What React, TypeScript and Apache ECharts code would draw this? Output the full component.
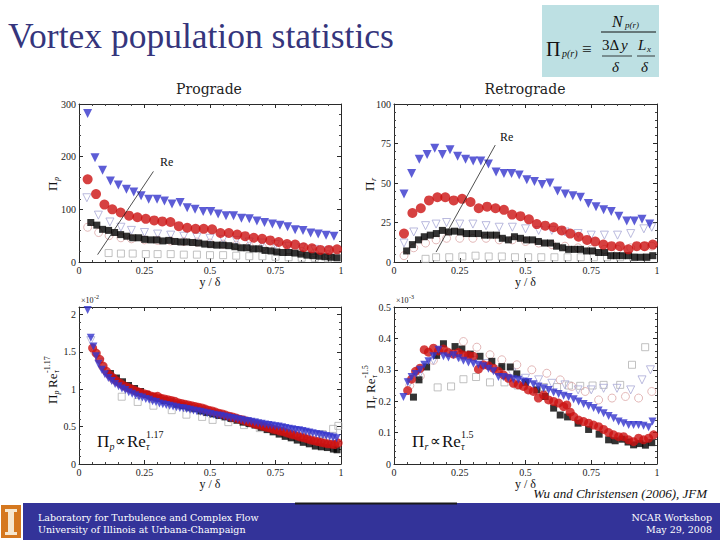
import React, { useEffect, useRef } from 'react';
import * as echarts from 'echarts';

const SERIF = 'Liberation Serif';
const SLAB = 'DejaVu Serif';

// ---------- Prograde vortex population, Pi_p ----------
const progBlueX = [0.033,0.061,0.090,0.120,0.150,0.181,0.209,0.237,0.266,0.298,0.326,0.355,0.386,0.413,0.443,0.474,0.503,0.531,0.561,0.590,0.620,0.650,0.679,0.708,0.738,0.767,0.796,0.825,0.855,0.884,0.913,0.943,0.973];
const progBlueY = [282,198,174,154,146,138,133,126,119,119,116,110,113,103,100,96,96,91,88,88,83,82,78,75,72,70,67,61,60,55,53,51,49];
const progRedX = [0.033,0.065,0.097,0.127,0.159,0.191,0.223,0.255,0.287,0.318,0.349,0.381,0.413,0.445,0.476,0.508,0.540,0.572,0.604,0.634,0.667,0.699,0.730,0.762,0.794,0.825,0.857,0.889,0.921,0.954,0.985];
const progRedY = [157,129,109,100,94,88,85,82,79,77,76,68,65,63,63,62,55,55,52,49,46,44,41,38,34,33,28,26,23,23,24];
const progBlackX = [0.045,0.068,0.090,0.113,0.136,0.159,0.182,0.205,0.228,0.251,0.274,0.297,0.320,0.343,0.366,0.389,0.411,0.434,0.457,0.480,0.503,0.526,0.549,0.572,0.595,0.618,0.641,0.664,0.687,0.710,0.733,0.755,0.778,0.801,0.824,0.847,0.870,0.893,0.916,0.939,0.962,0.985];
const progBlackY = [75,70,62,60,56,52,49,46,46,43,42,42,40,41,39,38,38,37,36,34,33,32,32,31,29,27,27,25,25,22,21,19,18,18,17,15,13,12,11,10,9,8];
const progOpenSqX = [0.113,0.16,0.205,0.255,0.3,0.35,0.4,0.45,0.5,0.55,0.6,0.65,0.7,0.75,0.8,0.85,0.9,0.95];
const progOpenSqY = [17,16,16,15,15,15,14,14,13,13,12,11,11,10,9,8,8,7];
const progOpenCircX = [0.033,0.075,0.115,0.16,0.2,0.25,0.3,0.35,0.4,0.45,0.5,0.55,0.6,0.65,0.7,0.75,0.8,0.85,0.9,0.95];
const progOpenCircY = [66,56,50,46,44,42,41,40,39,38,36,34,32,30,28,26,23,20,17,14];
const progOpenTriX = [0.03,0.074,0.118,0.16,0.2,0.25,0.3,0.35,0.4,0.45,0.5,0.55,0.6,0.65,0.7,0.75,0.8,0.85,0.9,0.95];
const progOpenTriY = [122,89,76,66,60,56,53,51,49,47,45,43,41,38,36,33,30,27,24,21];

// ---------- Retrograde vortex population, Pi_r ----------
const retroBlueX = [0.038,0.067,0.096,0.126,0.155,0.184,0.213,0.242,0.272,0.301,0.330,0.359,0.388,0.418,0.447,0.476,0.505,0.534,0.563,0.593,0.622,0.651,0.680,0.709,0.739,0.768,0.797,0.826,0.855,0.885,0.914,0.943,0.972];
const retroBlueY = [43,56,65,68,72,68,71,67,65,64,64,62,57,56,56,55,52,51,49,50,45,43,42,41,37,35,33,32,29,26,26,27,24];
const retroRedX = [0.038,0.070,0.102,0.133,0.165,0.195,0.227,0.259,0.291,0.322,0.354,0.386,0.418,0.449,0.481,0.513,0.543,0.575,0.607,0.638,0.670,0.702,0.734,0.765,0.796,0.827,0.859,0.891,0.923,0.953,0.984];
const retroRedY = [18,31,34,39,41,41,39,40,38,34,35,34,33,30,29,27,24,23,22,20,18,16,14,13,11,10,10,8,10,10,11];
const retroBlackX = [0.048,0.070,0.093,0.115,0.138,0.161,0.184,0.207,0.230,0.253,0.275,0.298,0.321,0.344,0.367,0.390,0.412,0.435,0.458,0.481,0.504,0.527,0.549,0.572,0.595,0.618,0.641,0.664,0.687,0.709,0.732,0.755,0.778,0.801,0.824,0.846,0.869,0.892,0.915,0.938,0.961,0.984];
const retroBlackY = [7,11,14,16,17,18,20,19,19.5,19,18,18,18,17,17,17,15,14,16,15,14,14,13,12,12,10,9,8,8,8,7,7,6,6,4,4,4,4,3,3,3,4];
const retroOpenX = [0.038,0.075,0.12,0.16,0.2,0.25,0.3,0.35,0.4,0.45,0.5,0.55,0.6,0.65,0.7,0.75,0.8,0.85,0.9,0.95,0.98];
const retroOpenTriY = [12,19,23,24,25,24,24,23,22,22,21,20,20,19,18,17,17,17,18,21,22];
const retroOpenCircY = [4,9,12,14,15,15,15,15,14,14,13,12,11,10,9,8,8,8,9,10,10];
const retroOpenSqX = [0.12,0.16,0.21,0.26,0.31,0.36,0.41,0.46,0.51,0.56,0.61,0.66,0.71,0.76,0.81,0.86,0.91,0.96];
const retroOpenSqY = [2,3,3,3.5,4,3.5,3.5,3,3,3,3,3,3,3,3,3,3,3];

// ---------- Prograde, scaled by Re_tau^-1.17 (x10^-2) ----------
const progScBlueX = [0.033,0.045,0.055,0.065,0.074,0.087,0.099,0.112,0.125,0.138,0.151,0.164,0.177,0.190,0.203,0.216,0.229,0.242,0.255,0.268,0.281,0.294,0.307,0.320,0.333,0.346,0.359,0.372,0.385,0.398,0.411,0.424,0.437,0.450,0.463,0.476,0.489,0.502,0.515,0.528,0.541,0.554,0.567,0.580,0.593,0.606,0.619,0.632,0.645,0.658,0.671,0.684,0.697,0.710,0.723,0.736,0.749,0.762,0.775,0.788,0.801,0.814,0.827,0.840,0.853,0.866,0.879,0.892,0.905,0.918,0.931,0.944,0.957,0.970,0.983];
const progScBlueY = [2.06,1.69,1.57,1.44,1.34,1.26,1.20,1.15,1.11,1.07,1.04,1.01,0.99,0.96,0.94,0.92,0.90,0.89,0.87,0.86,0.84,0.83,0.81,0.80,0.79,0.78,0.77,0.76,0.75,0.745,0.735,0.725,0.715,0.705,0.70,0.69,0.68,0.67,0.66,0.65,0.645,0.635,0.625,0.615,0.61,0.60,0.59,0.58,0.575,0.565,0.555,0.545,0.54,0.53,0.52,0.515,0.505,0.50,0.49,0.48,0.47,0.465,0.455,0.45,0.44,0.43,0.42,0.41,0.40,0.395,0.385,0.375,0.365,0.355,0.345];
const progScRedX = [0.052,0.066,0.079,0.092,0.105,0.118,0.131,0.144,0.157,0.170,0.183,0.196,0.209,0.222,0.235,0.248,0.261,0.274,0.287,0.300,0.313,0.326,0.339,0.352,0.365,0.378,0.391,0.404,0.417,0.430,0.443,0.456,0.469,0.482,0.495,0.508,0.521,0.534,0.547,0.560,0.573,0.586,0.599,0.612,0.625,0.638,0.651,0.664,0.677,0.690,0.703,0.716,0.729,0.742,0.755,0.768,0.781,0.794,0.807,0.820,0.833,0.846,0.859,0.872,0.885,0.898,0.911,0.924,0.937,0.950,0.963,0.976,0.989];
const progScRedY = [1.55,1.48,1.40,1.31,1.24,1.19,1.15,1.11,1.08,1.05,1.03,1.01,0.99,0.97,0.955,0.94,0.93,0.91,0.90,0.905,0.88,0.87,0.86,0.85,0.84,0.82,0.81,0.80,0.79,0.78,0.77,0.76,0.75,0.735,0.72,0.71,0.695,0.68,0.67,0.655,0.64,0.63,0.615,0.60,0.59,0.575,0.56,0.545,0.53,0.52,0.505,0.49,0.48,0.465,0.455,0.44,0.43,0.415,0.40,0.39,0.375,0.36,0.35,0.335,0.32,0.31,0.30,0.29,0.28,0.27,0.265,0.26,0.28];
const progScBlackX = [0.12,0.143,0.166,0.189,0.212,0.235,0.258,0.281,0.304,0.327,0.35,0.373,0.396,0.419,0.442,0.465,0.488,0.511,0.534,0.557,0.58,0.603,0.626,0.649,0.672,0.695,0.718,0.741,0.764,0.787,0.81,0.833,0.856,0.879,0.902,0.925,0.948,0.971,0.985];
const progScBlackY = [1.21,1.15,1.10,1.05,1.01,0.97,0.93,0.90,0.88,0.85,0.83,0.80,0.78,0.76,0.74,0.71,0.69,0.67,0.65,0.63,0.61,0.585,0.56,0.54,0.52,0.49,0.46,0.43,0.40,0.37,0.35,0.32,0.29,0.27,0.24,0.23,0.22,0.20,0.19];
const progScOpenSqX = [0.163,0.224,0.284,0.354,0.41,0.47,0.51,0.57,0.63,0.69,0.75,0.81,0.87,0.93,0.97,0.99];
const progScOpenSqY = [0.90,0.83,0.78,0.72,0.66,0.63,0.59,0.56,0.52,0.48,0.45,0.42,0.40,0.40,0.47,0.51];
const progScOpenCircX = [0.06,0.09,0.13,0.18,0.23,0.28,0.33,0.38,0.43,0.48,0.53,0.58,0.63,0.68,0.73,0.78,0.83,0.88,0.93,0.98];
const progScOpenCircY = [1.5,1.3,1.13,1.02,0.94,0.88,0.84,0.79,0.75,0.70,0.66,0.61,0.57,0.52,0.48,0.44,0.40,0.36,0.33,0.30];
const progScOpenTriX = [0.045,0.08,0.12,0.17,0.22,0.27,0.32,0.37,0.42,0.47,0.52,0.57,0.62,0.67,0.72,0.77,0.82,0.87,0.92,0.97];
const progScOpenTriY = [1.65,1.36,1.16,1.03,0.95,0.89,0.84,0.80,0.76,0.72,0.67,0.63,0.59,0.55,0.51,0.47,0.44,0.41,0.38,0.36];

// ---------- Retrograde, scaled by Re_tau^-1.5 (x10^-3) ----------
const retroScBlueX = [0.036,0.052,0.067,0.082,0.099,0.115,0.131,0.15,0.169,0.188,0.207,0.226,0.245,0.264,0.283,0.302,0.321,0.34,0.359,0.378,0.397,0.416,0.435,0.454,0.473,0.492,0.511,0.53,0.549,0.569,0.588,0.607,0.626,0.645,0.664,0.683,0.702,0.721,0.74,0.759,0.778,0.797,0.816,0.835,0.854,0.873,0.892,0.911,0.93,0.949,0.968,0.983];
const retroScBlueY = [0.213,0.26,0.277,0.287,0.30,0.316,0.327,0.343,0.364,0.343,0.339,0.346,0.337,0.329,0.323,0.319,0.316,0.311,0.303,0.295,0.277,0.277,0.273,0.27,0.268,0.263,0.261,0.254,0.247,0.241,0.236,0.228,0.223,0.217,0.213,0.206,0.199,0.191,0.185,0.178,0.17,0.162,0.153,0.146,0.135,0.13,0.124,0.124,0.124,0.122,0.117,0.135];
const retroScRedX = [0.052,0.067,0.082,0.099,0.115,0.131,0.15,0.169,0.188,0.207,0.226,0.245,0.264,0.283,0.302,0.321,0.34,0.359,0.378,0.397,0.416,0.435,0.454,0.473,0.492,0.511,0.53,0.549,0.569,0.588,0.607,0.626,0.645,0.657,0.67,0.683,0.702,0.721,0.74,0.759,0.778,0.797,0.816,0.835,0.854,0.873,0.892,0.911,0.93,0.949,0.968,0.987];
const retroScRedY = [0.234,0.27,0.295,0.305,0.364,0.356,0.369,0.36,0.366,0.355,0.35,0.355,0.347,0.346,0.343,0.302,0.316,0.313,0.305,0.295,0.284,0.273,0.257,0.252,0.247,0.236,0.231,0.21,0.22,0.204,0.199,0.194,0.183,0.188,0.165,0.151,0.14,0.135,0.13,0.124,0.119,0.11,0.1,0.093,0.087,0.087,0.077,0.071,0.082,0.077,0.082,0.093];
const retroScBlackX = [0.074,0.095,0.124,0.162,0.188,0.232,0.258,0.29,0.327,0.372,0.41,0.442,0.467,0.50,0.543,0.575,0.607,0.632,0.66,0.70,0.74,0.78,0.816,0.841,0.867,0.89,0.911,0.935,0.956,0.98];
const retroScBlackY = [0.213,0.268,0.309,0.346,0.383,0.374,0.366,0.35,0.343,0.327,0.31,0.309,0.287,0.26,0.236,0.215,0.178,0.156,0.15,0.13,0.11,0.095,0.077,0.074,0.079,0.07,0.061,0.065,0.06,0.068];
const retroScOpenSqX = [0.166,0.217,0.264,0.312,0.365,0.42,0.47,0.52,0.57,0.62,0.665,0.708,0.755,0.797,0.86,0.905,0.955];
const retroScOpenSqY = [0.244,0.247,0.27,0.277,0.26,0.26,0.25,0.25,0.245,0.245,0.25,0.249,0.25,0.252,0.252,0.316,0.372];
const retroScOpenCircX = [0.06,0.1,0.15,0.2,0.264,0.315,0.365,0.41,0.467,0.524,0.581,0.632,0.676,0.727,0.778,0.829,0.88,0.93,0.98];
const retroScOpenCircY = [0.25,0.28,0.33,0.36,0.39,0.372,0.348,0.332,0.316,0.30,0.289,0.268,0.247,0.231,0.204,0.21,0.215,0.21,0.231];
const retroScOpenTriX = [0.06,0.1,0.15,0.2,0.25,0.3,0.35,0.4,0.448,0.5,0.55,0.6,0.65,0.70,0.75,0.797,0.848,0.9,0.943,0.975];
const retroScOpenTriY = [0.26,0.29,0.33,0.35,0.34,0.33,0.32,0.30,0.29,0.273,0.268,0.257,0.252,0.236,0.236,0.241,0.241,0.236,0.268,0.30];

// x-axis ticks shared by all four panels
const xTicks = { min: 0, max: 1, interval: 0.25 };

const BLUE = '#3434cc';
const RED = '#cc1111';
const BLACK = '#000000';
const GREY_SQ = '#b2b2b2';
const GREY_CIRC = '#dca6a6';
const GREY_TRI = '#a9a9d6';

const pts = (xs: number[], ys: number[]) =>
  xs.slice(0, Math.min(xs.length, ys.length)).map((x, i) => [x, ys[i]]);

type Mark = 'rect' | 'circle' | 'triangle';

function scatter(grid: number, xs: number[], ys: number[], mark: Mark, size: number, color: string, hollow: boolean, extra: any = {}) {
  return {
    type: 'scatter',
    xAxisIndex: grid * 2,
    yAxisIndex: grid * 2,
    symbol: mark,
    symbolSize: size,
    symbolRotate: mark === 'triangle' ? 180 : 0,
    itemStyle: hollow
      ? { color: 'rgba(255,255,255,0)', borderColor: color, borderWidth: 1 }
      : { color },
    data: pts(xs, ys),
    silent: true,
    ...extra,
  };
}

const reLine = (a: number[], b: number[]) => ({
  markLine: {
    silent: true,
    symbol: ['none', 'none'],
    label: { show: false },
    lineStyle: { color: '#222', width: 0.8, type: 'solid' },
    data: [[{ coord: a }, { coord: b }]],
  },
});

const tickLabel = { fontFamily: SERIF, fontSize: 10, color: '#222', margin: 3 };
const axisBase = {
  type: 'value',
  axisLine: { show: true, onZero: false, lineStyle: { color: '#2a2a2a', width: 1 } },
  axisTick: { show: true, inside: true, length: 4, lineStyle: { color: '#2a2a2a' } },
  minorTick: { show: true, splitNumber: 5, length: 2, lineStyle: { color: '#444' } },
  splitLine: { show: false },
};

const grids = [
  { left: 79, top: 104, width: 262, height: 158 },
  { left: 394, top: 104, width: 263, height: 158 },
  { left: 79, top: 307, width: 262, height: 157 },
  { left: 394, top: 307, width: 263, height: 157 },
];
const yScales = [
  { min: 0, max: 300, interval: 100 },
  { min: 0, max: 100, interval: 25 },
  { min: 0, max: 2.1, interval: 0.5 },
  { min: 0, max: 0.5, interval: 0.1 },
];

const xAxes: any[] = [];
const yAxes: any[] = [];
grids.forEach((_, i) => {
  xAxes.push({
    ...axisBase, ...xTicks, gridIndex: i, position: 'bottom',
    axisLabel: tickLabel,
    name: 'y / δ', nameLocation: 'middle', nameGap: i === 3 ? 8 : 12,
    nameTextStyle: { fontFamily: SERIF, fontSize: 12, color: '#111' },
  });
  xAxes.push({ ...axisBase, ...xTicks, gridIndex: i, position: 'top', axisLabel: { show: false } });
  yAxes.push({
    ...axisBase, ...yScales[i], gridIndex: i, position: 'left',
    axisLabel: { ...tickLabel, showMaxLabel: i !== 2 },
  });
  yAxes.push({ ...axisBase, ...yScales[i], gridIndex: i, position: 'right', axisLabel: { show: false } });
});

const series: any[] = [
  // prograde
  scatter(0, progOpenSqX, progOpenSqY, 'rect', 7, GREY_SQ, true),
  scatter(0, progOpenCircX, progOpenCircY, 'circle', 8, GREY_CIRC, true),
  scatter(0, progOpenTriX, progOpenTriY, 'triangle', 8, GREY_TRI, true),
  scatter(0, progBlackX, progBlackY, 'rect', 7, BLACK, false, reLine([0.071, 14], [0.284, 172])),
  scatter(0, progRedX, progRedY, 'circle', 10, RED, false),
  scatter(0, progBlueX, progBlueY, 'triangle', 9, BLUE, false),
  // retrograde
  scatter(1, retroOpenSqX, retroOpenSqY, 'rect', 7, GREY_SQ, true),
  scatter(1, retroOpenX, retroOpenCircY, 'circle', 8, GREY_CIRC, true),
  scatter(1, retroOpenX, retroOpenTriY, 'triangle', 8, GREY_TRI, true),
  scatter(1, retroBlackX, retroBlackY, 'rect', 7, BLACK, false, reLine([0.16, 6.3], [0.385, 74])),
  scatter(1, retroRedX, retroRedY, 'circle', 10, RED, false),
  scatter(1, retroBlueX, retroBlueY, 'triangle', 9, BLUE, false),
  // prograde scaled
  scatter(2, progScOpenSqX, progScOpenSqY, 'rect', 7, GREY_SQ, true),
  scatter(2, progScOpenCircX, progScOpenCircY, 'circle', 8, GREY_CIRC, true),
  scatter(2, progScOpenTriX, progScOpenTriY, 'triangle', 8, GREY_TRI, true),
  scatter(2, progScBlackX, progScBlackY, 'rect', 7, BLACK, false),
  scatter(2, progScRedX, progScRedY, 'circle', 9, RED, false),
  scatter(2, progScBlueX, progScBlueY, 'triangle', 8, BLUE, false),
  // retrograde scaled
  scatter(3, retroScOpenSqX, retroScOpenSqY, 'rect', 7, GREY_SQ, true),
  scatter(3, retroScOpenCircX, retroScOpenCircY, 'circle', 8, GREY_CIRC, true),
  scatter(3, retroScOpenTriX, retroScOpenTriY, 'triangle', 8, GREY_TRI, true),
  scatter(3, retroScBlackX, retroScBlackY, 'rect', 7, BLACK, false),
  scatter(3, retroScRedX, retroScRedY, 'circle', 9, RED, false),
  scatter(3, retroScBlueX, retroScBlueY, 'triangle', 8, BLUE, false),
];

// ---------- text helpers for the slide decoration ----------
function txt(x: number, y: number, text: string, size: number, o: any = {}) {
  return {
    type: 'text', x, y, silent: true,
    style: {
      text, fontSize: size, fontFamily: o.family || SERIF,
      fontStyle: o.italic ? 'italic' : 'normal',
      fontWeight: o.bold ? 'bold' : 'normal',
      fill: o.color || '#111', align: o.align || 'left', verticalAlign: o.va || 'middle',
    },
  };
}
// piece: [text, dx, dy, size, italic]
type Piece = [string, number, number, number, boolean?];
function mathGroup(x: number, y: number, pieces: Piece[], rotated: boolean) {
  return {
    type: 'group', x, y, rotation: rotated ? Math.PI / 2 : 0, silent: true,
    children: pieces.map(([t, dx, dy, s, it]) => txt(dx, dy, t, s, { italic: !!it })),
  };
}
const line = (x1: number, y1: number, x2: number, y2: number, color = '#111', w = 1) => ({
  type: 'line', silent: true, shape: { x1, y1, x2, y2 }, style: { stroke: color, lineWidth: w },
});

const graphic: any[] = [
  // slide title and panel headings
  txt(8, 36, 'Vortex population statistics', 35.5, { color: '#35357c' }),
  txt(209, 89, 'Prograde', 14, { family: SLAB, align: 'center', color: '#222' }),
  txt(525, 89, 'Retrograde', 14, { family: SLAB, align: 'center', color: '#222' }),

  // definition box
  { type: 'rect', silent: true, shape: { x: 542, y: 5, width: 117, height: 72 }, style: { fill: '#bde0e3' } },
  txt(546, 49, 'Π', 20),
  txt(562, 53, 'p(r)', 10, { italic: true }),
  txt(582, 49, '≡', 17),
  txt(612, 21, 'N', 16, { italic: true }),
  txt(625, 25, 'p(r)', 9, { italic: true }),
  line(601, 32, 656, 32),
  txt(602, 45, '3Δ', 15),
  txt(621, 45, 'y', 15, { italic: true }),
  txt(638, 45, 'L', 15, { italic: true }),
  txt(647, 49, 'x', 9, { italic: true }),
  line(602, 56, 632, 56, '#111', 0.8),
  line(637, 56, 655, 56, '#111', 0.8),
  txt(612, 67, 'δ', 15, { italic: true }),
  txt(641, 67, 'δ', 15, { italic: true }),

  // y-axis titles
  mathGroup(52, 183, [['Π', -8, 0, 13], ['p', 2, 4, 8, true]], true),
  mathGroup(369, 183, [['Π', -8, 0, 13], ['r', 2, 4, 8, true]], true),
  mathGroup(52, 381, [['Π', -23, 0, 13], ['p', -13.5, 4, 8, true], ['Re', -7, 0, 13], ['τ', 8, 4, 8, true], ['-1.17', 8, -5, 8]], true),
  mathGroup(370, 388, [['Π', -21, 0, 13], ['r', -11.5, 4, 8, true], ['Re', -5, 0, 13], ['τ', 10, 4, 8, true], ['-1.5', 10, -5, 8]], true),

  // exponent markers above the scaled panels
  txt(81, 300, '×10', 8), txt(94, 297, '-2', 6),
  txt(396, 300, '×10', 8), txt(409, 297, '-3', 6),

  // Reynolds-number direction labels
  txt(160, 162, 'Re', 12),
  txt(500, 137, 'Re', 12),

  // scaling laws
  mathGroup(97, 441, [['Π', 0, 0, 17], ['p', 12.5, 5, 10, true], ['∝', 18, 0, 15], ['Re', 30, 0, 17], ['τ', 49, 5, 10, true], ['1.17', 49, -7, 10]], false),
  mathGroup(412, 441, [['Π', 0, 0, 17], ['r', 12.5, 5, 10, true], ['∝', 18, 0, 15], ['Re', 30, 0, 17], ['τ', 49, 5, 10, true], ['1.5', 49, -7, 10]], false),

  // citation
  txt(707, 493, 'Wu and Christensen (2006), JFM', 13, { italic: true, align: 'right', color: '#111' }),

  // footer band
  { type: 'rect', silent: true, shape: { x: 0, y: 503, width: 720, height: 37 }, style: { fill: '#333399' } },
  line(295, 503.5, 457, 503.5, '#1a1a1a', 2),
  { type: 'rect', silent: true, shape: { x: 0, y: 503, width: 23, height: 37 }, style: { fill: '#ffffff' } },
  { type: 'rect', silent: true, shape: { x: 1, y: 505, width: 20, height: 33 }, style: { fill: '#d5781f' } },
  { type: 'rect', silent: true, shape: { x: 5, y: 509, width: 12, height: 3 }, style: { fill: '#f6e7cf' } },
  { type: 'rect', silent: true, shape: { x: 8, y: 512, width: 6, height: 20 }, style: { fill: '#f6e7cf' } },
  { type: 'rect', silent: true, shape: { x: 5, y: 532, width: 12, height: 3 }, style: { fill: '#f6e7cf' } },
  txt(38, 517, 'Laboratory for Turbulence and Complex Flow', 9.5, { family: SLAB, color: '#ffffff' }),
  txt(38, 529, 'University of Illinois at Urbana-Champaign', 9.5, { family: SLAB, color: '#ffffff' }),
  txt(712, 517, 'NCAR Workshop', 9.5, { family: SLAB, color: '#ffffff', align: 'right' }),
  txt(712, 529, 'May 29, 2008', 9.5, { family: SLAB, color: '#ffffff', align: 'right' }),
];

export default function App() {
  const ref = useRef<HTMLDivElement>(null);
  useEffect(() => {
    if (!ref.current) return;
    const chart = echarts.init(ref.current, undefined, { renderer: 'svg' });
    chart.setOption({
      animation: false,
      backgroundColor: '#ffffff',
      textStyle: { fontFamily: SERIF },
      grid: grids.map((g) => ({ ...g, containLabel: false })),
      xAxis: xAxes,
      yAxis: yAxes,
      series,
      graphic,
    });
    return () => chart.dispose();
  }, []);
  return (
    <div
      ref={ref}
      style={{ position: 'fixed', left: 0, top: 0, width: 720, height: 540, background: '#fff' }}
    />
  );
}
